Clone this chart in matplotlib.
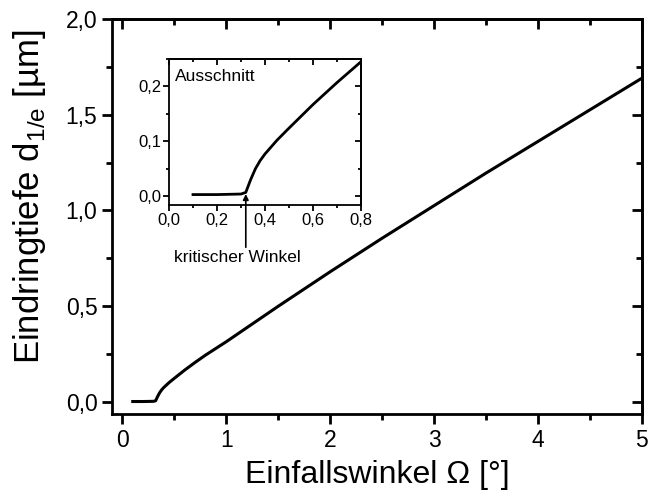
import numpy as np
import matplotlib.pyplot as plt
from matplotlib.ticker import MultipleLocator, FuncFormatter

plt.rcParams['font.family'] = ['Liberation Sans', 'DejaVu Sans']

# Eindringtiefe über Einfallswinkel
winkel = [0.1, 0.2, 0.3, 0.32, 0.34, 0.36, 0.38, 0.4, 0.45, 0.5, 0.6, 0.7,
          0.8, 1.0, 1.5, 2.0, 2.5, 3.0, 3.5, 4.0, 4.5, 5.0]
tiefe = [0.003, 0.003, 0.004, 0.007, 0.03, 0.05, 0.065, 0.077, 0.102, 0.124,
         0.167, 0.207, 0.245, 0.315, 0.5, 0.68, 0.855, 1.025, 1.195, 1.36,
         1.525, 1.69]
krit_winkel = 0.32


def komma(fmt):
    return FuncFormatter(lambda v, p: (fmt % v).replace('.', ','))


def ticks_innen(ax, lw, major, minor):
    # oben und rechts nach innen, unten und links nach außen
    ax.tick_params(which='major', direction='out', length=major, width=lw)
    ax.tick_params(which='minor', direction='out', length=minor, width=lw)
    top = ax.secondary_xaxis('top')
    top.xaxis.set_major_locator(ax.xaxis.get_major_locator())
    top.xaxis.set_minor_locator(ax.xaxis.get_minor_locator())
    top.tick_params(which='major', direction='in', length=major, width=lw, labeltop=False)
    top.tick_params(which='minor', direction='in', length=minor, width=lw)
    top.spines['top'].set_linewidth(lw)
    right = ax.secondary_yaxis('right')
    right.yaxis.set_major_locator(ax.yaxis.get_major_locator())
    right.yaxis.set_minor_locator(ax.yaxis.get_minor_locator())
    right.tick_params(which='major', direction='in', length=major, width=lw, labelright=False)
    right.tick_params(which='minor', direction='in', length=minor, width=lw)
    right.spines['right'].set_linewidth(lw)


fig = plt.figure(figsize=(6.51, 4.94), dpi=100)
ax = fig.add_axes([0.172, 0.162, 0.814, 0.8])
ax.plot(winkel, tiefe, color='black', lw=2.2)
ax.set_xlim(-0.1, 5)
ax.set_ylim(-0.062, 2.0)
ax.xaxis.set_major_locator(MultipleLocator(1))
ax.xaxis.set_minor_locator(MultipleLocator(0.5))
ax.yaxis.set_major_locator(MultipleLocator(0.5))
ax.yaxis.set_minor_locator(MultipleLocator(0.25))
ax.yaxis.set_major_formatter(komma('%.1f'))
for s in ax.spines.values():
    s.set_linewidth(2)
ticks_innen(ax, 2, 7, 4)
ax.tick_params(labelsize=16.5)
ax.set_xlabel('Einfallswinkel Ω [°]', fontsize=23, labelpad=6)
ax.set_ylabel('Eindringtiefe d$_{\\mathregular{1/e}}$ [µm]', fontsize=25)
ax.yaxis.set_label_coords(-0.12, 0.55)

# Ausschnitt um den kritischen Winkel
ins = fig.add_axes([0.2596, 0.585, 0.2949, 0.2956])
ins.plot(winkel, tiefe, color='black', lw=2)
ins.set_xlim(0, 0.8)
ins.set_ylim(-0.016, 0.25)
ins.xaxis.set_major_locator(MultipleLocator(0.2))
ins.xaxis.set_minor_locator(MultipleLocator(0.1))
ins.yaxis.set_major_locator(MultipleLocator(0.1))
ins.yaxis.set_minor_locator(MultipleLocator(0.05))
ins.xaxis.set_major_formatter(komma('%.1f'))
ins.yaxis.set_major_formatter(komma('%.1f'))
for s in ins.spines.values():
    s.set_linewidth(1.3)
ticks_innen(ins, 1.3, 4, 2.5)
ins.tick_params(labelsize=12, pad=1.5)
ins.text(0.03, 0.93, 'Ausschnitt', transform=ins.transAxes, fontsize=12.5,
         ha='left', va='top')

# senkrechter Pfeil vom Text zum kritischen Winkel
ins.annotate('', xy=(krit_winkel, 0.004), xycoords='data',
             xytext=(krit_winkel, -0.093), textcoords='data',
             annotation_clip=False,
             arrowprops=dict(arrowstyle='-|>', color='black', lw=1.2,
                             mutation_scale=8, shrinkA=0, shrinkB=0))
ins.text(0.285, -0.112, 'kritischer Winkel', fontsize=12.5,
         ha='center', va='center', clip_on=False)

fig.savefig('out.png', dpi=100)
